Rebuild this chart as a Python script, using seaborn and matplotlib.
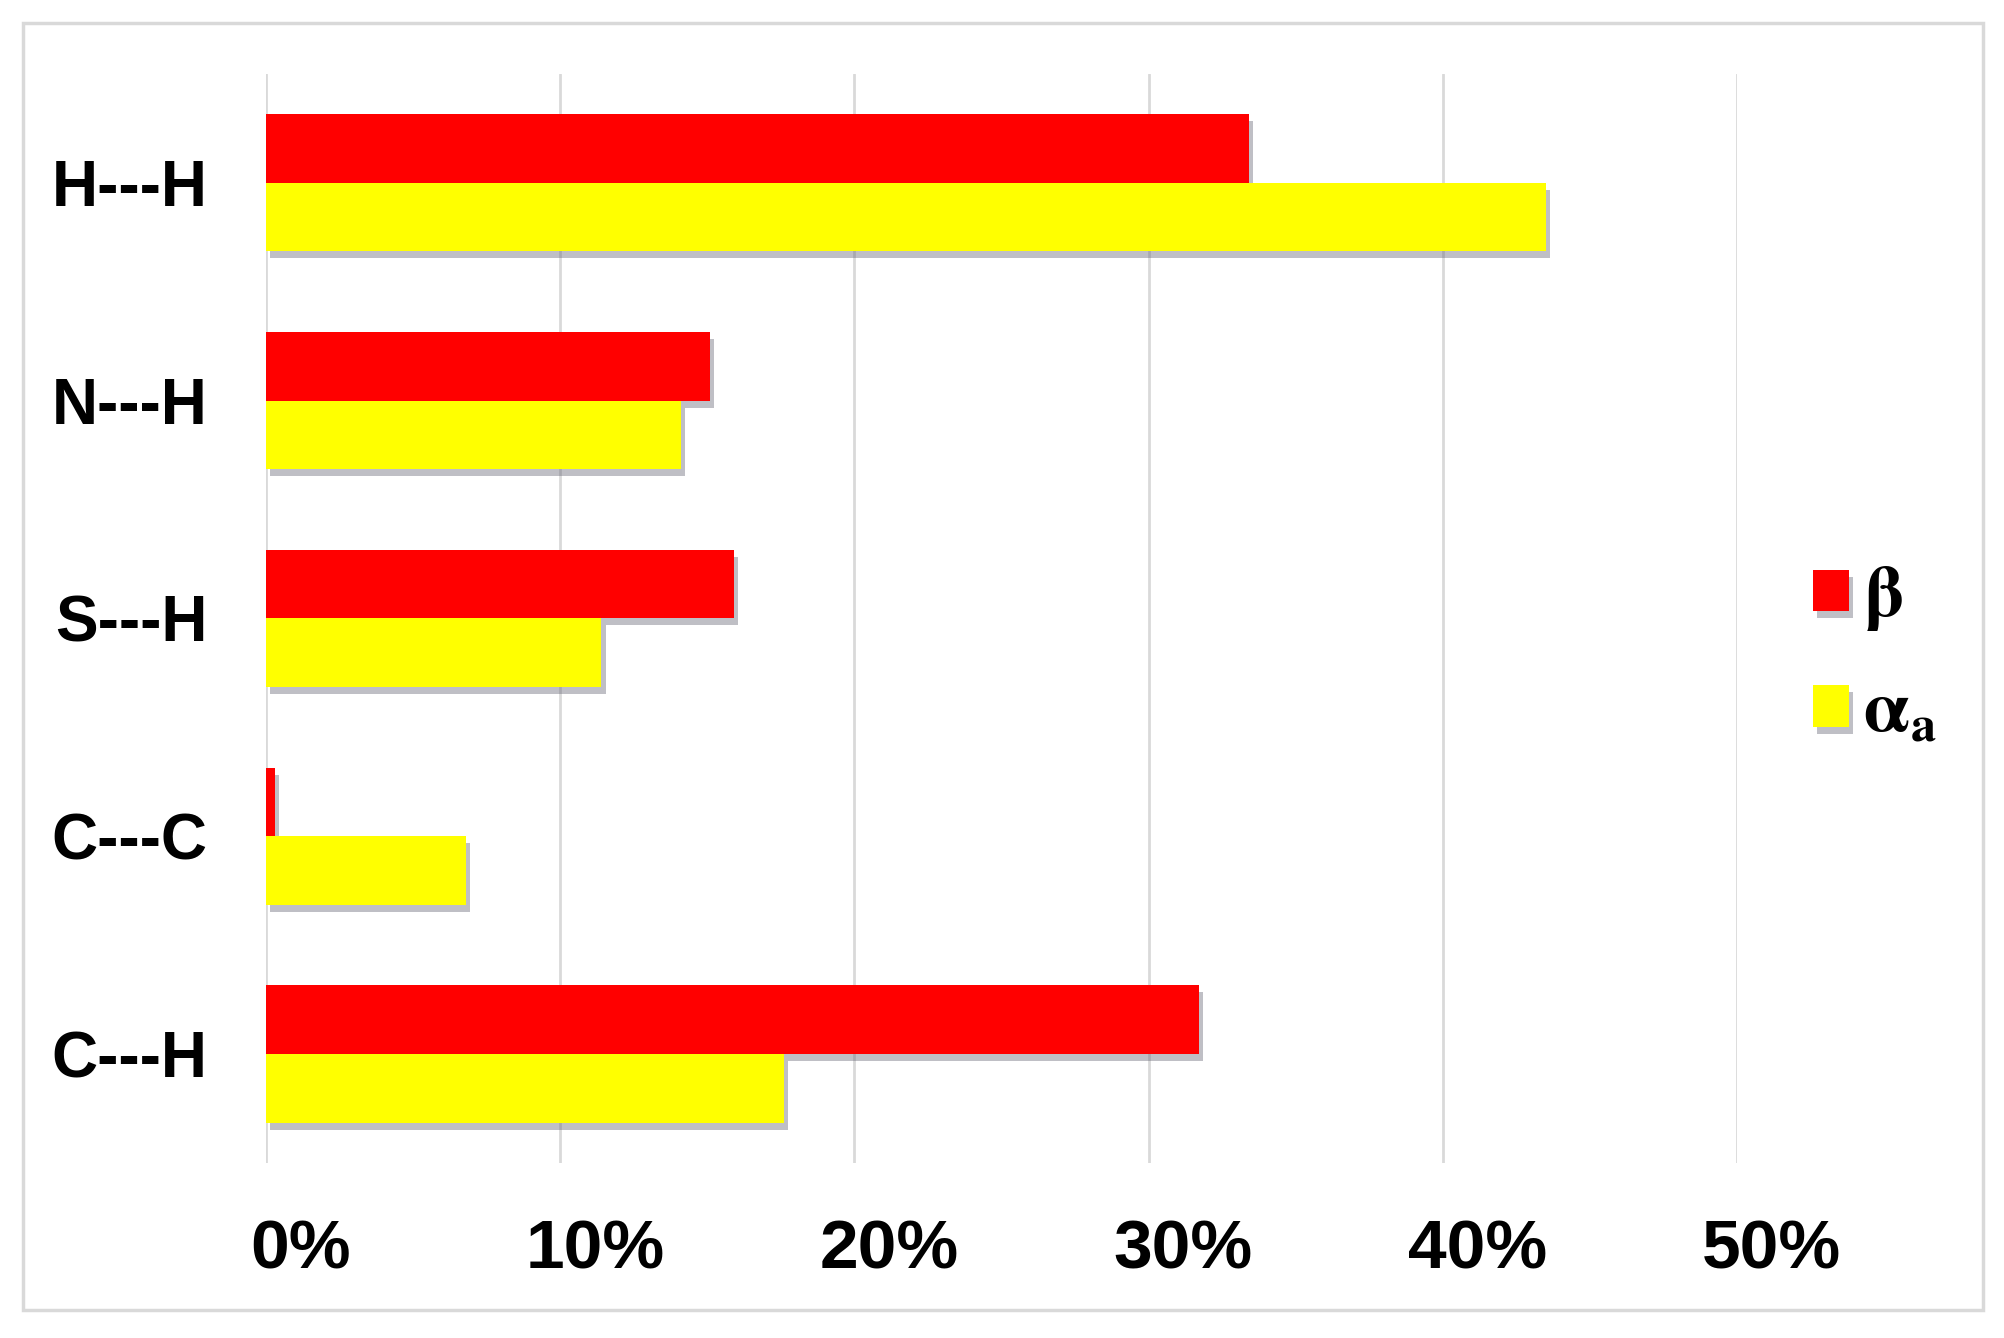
import numpy as np
import pandas as pd
import matplotlib
matplotlib.use("Agg")
import matplotlib.pyplot as plt
import matplotlib.patheffects as pe
import matplotlib.transforms as mtransforms
from matplotlib.patches import Rectangle
from matplotlib.ticker import PercentFormatter
import seaborn as sns

# ---------- data ----------
contacts = ["H---H", "N---H", "S---H", "C---C", "C---H"]
beta = [33.4, 15.1, 15.9, 0.3, 31.7]
alpha_a = [43.5, 14.1, 11.4, 6.8, 17.6]
series_names = ["beta", "alpha_a"]
legend_labels = [r"$\mathbf{\beta}$", r"$\mathbf{\alpha_{a}}$"]
x_ticks = [0, 10, 20, 30, 40, 50]
COLORS = ["#ff0000", "#ffff00"]
# --------------------------------------------------

df = pd.DataFrame({
    "contact": contacts * 2,
    "value": beta + alpha_a,
    "series": [series_names[0]] * len(contacts) + [series_names[1]] * len(contacts),
})

sns.set_style("white")
plt.rcParams.update({"mathtext.fontset": "stix", "text.color": "black",
                     "xtick.color": "black", "ytick.color": "black"})

fig = plt.figure(figsize=(20.04, 13.38), dpi=100)
ax = fig.add_axes([0.1327, 0.1308, 0.8668 - 0.1327, 0.9447 - 0.1308])

sns.barplot(data=df, x="value", y="contact", hue="series", order=contacts,
            hue_order=series_names, palette=COLORS, orient="h", width=0.63,
            saturation=1, edgecolor="none", linewidth=0, ax=ax, zorder=3)

# soft drop shadow like the office chart
shadow = [pe.SimplePatchShadow(offset=(3, -5), shadow_rgbFace="#606070", alpha=0.4), pe.Normal()]
for p in ax.patches:
    p.set_path_effects(shadow)

ax.set_xlim(0, 50)
ax.set_ylim(4.5, -0.5)
ax.set_xticks(x_ticks)
ax.xaxis.set_major_formatter(PercentFormatter(decimals=0))
ax.grid(axis="x", color="#d9d9d9", linewidth=2, zorder=0)
ax.grid(axis="y", visible=False)
for s in ax.spines.values():
    s.set_visible(False)
ax.set_xlabel("")
ax.set_ylabel("")
ax.tick_params(axis="both", length=0)
ax.tick_params(axis="x", pad=40)
ax.tick_params(axis="y", pad=42)

# x labels sit a little right of their gridline in the reference
shift = mtransforms.ScaledTranslation(25 / 72, 0, fig.dpi_scale_trans)
for lab in ax.get_xticklabels():
    lab.set_fontfamily(["Liberation Sans Narrow", "Liberation Sans", "DejaVu Sans"])
    lab.set_fontweight("bold")
    lab.set_fontsize(50)
    lab.set_color("black")
    lab.set_transform(lab.get_transform() + shift)
for lab in ax.get_yticklabels():
    lab.set_fontfamily(["Liberation Sans", "DejaVu Sans"])
    lab.set_fontweight("bold")
    lab.set_fontsize(46)
    lab.set_color("black")

handles, _ = ax.get_legend_handles_labels()
leg = ax.legend(handles, legend_labels, loc="center left",
                bbox_to_anchor=(0.8865, 0.511), bbox_transform=fig.transFigure,
                frameon=False, fontsize=52, handlelength=0.5, handleheight=0.5,
                handletextpad=0.2, labelspacing=0.62, borderpad=0)
for t in leg.get_texts():
    t.set_color("black")

# outer chart frame
fig.patches.append(Rectangle((23 / 2004, 1 - 1310 / 1338), (1983 - 23) / 2004, (1310 - 23) / 1338,
                             transform=fig.transFigure, fill=False,
                             edgecolor="#d9d9d9", linewidth=2.5))

fig.savefig("out.png", dpi=100, facecolor="white")
